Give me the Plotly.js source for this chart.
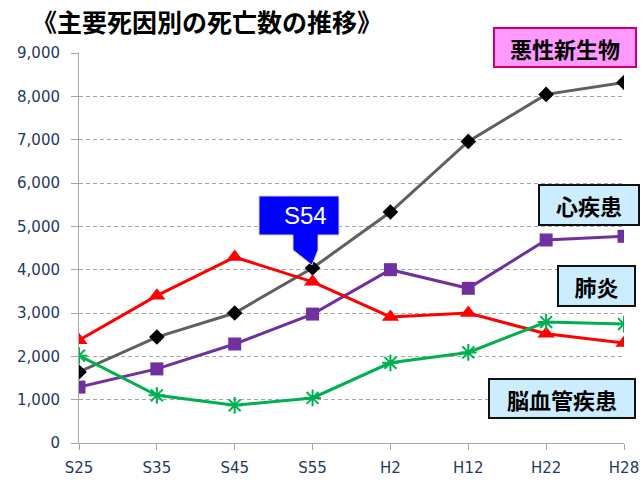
<!DOCTYPE html>
<html><head><meta charset="utf-8">
<script src="https://cdn.plot.ly/plotly-3.0.1.min.js"></script>
<style>html,body{margin:0;padding:0;background:#fff}#chart{width:643px;height:484px}</style>
</head><body><div id="chart"></div>
<script>
const categories = ["S25","S35","S45","S55","H2","H12","H22","H28"];
const malignant = [1640, 2445, 3000, 4040, 5330, 6960, 8045, 8320];
const heart = [1290, 1710, 2285, 2975, 4000, 3570, 4685, 4770];
const pneumonia = [2370, 3400, 4290, 3720, 2910, 3000, 2520, 2310];
const cerebro = [2015, 1100, 870, 1040, 1850, 2090, 2790, 2745];
const yTicks = [0,1000,2000,3000,4000,5000,6000,7000,8000,9000];
const yTickLabels = ["0","1,000","2,000","3,000","4,000","5,000","6,000","7,000","8,000","9,000"];
const titleText = "《主要死因別の死亡数の推移》";
const labelMalignant = "悪性新生物";
const labelHeart = "心疾患";
const labelPneumonia = "肺炎";
const labelCerebro = "脳血管疾患";
const calloutText = "S54";

const W = 643, H = 484, L = 79, R = 19, T = 53, B = 41;
const pw = W - L - R, ph = H - T - B;
const px = v => (v - L) / pw;
const py = v => (H - B - v) / ph;

const tickFont = {family: "DejaVu Sans, Liberation Sans, sans-serif", size: 15, color: "#1F3A5F"};
const jp = "Noto Sans CJK JP, sans-serif";

const traces = [
  {x: categories, y: malignant, mode: "lines+markers", line: {color: "#606060", width: 3},
   marker: {symbol: "diamond", size: 12, color: "#000000"}},
  {x: categories, y: heart, mode: "lines+markers", line: {color: "#7030A0", width: 3},
   marker: {symbol: "square", size: 13, color: "#7030A0"}},
  {x: categories, y: pneumonia, mode: "lines+markers", line: {color: "#FF0000", width: 3},
   marker: {symbol: "triangle-up", size: 15, color: "#FF0000"}},
  {x: categories, y: cerebro, mode: "lines+markers", line: {color: "#00B050", width: 3},
   marker: {symbol: "asterisk-open", size: 14, color: "#00B050", line: {color: "#00B050", width: 2}}}
];

function boxAnn(text, x0, x1, y0, y1, bg, border, fs) {
  const bw = 2, pad = 2;
  return {xref: "paper", yref: "paper", x: px((x0 + x1) / 2), y: py((y0 + y1) / 2),
    xanchor: "center", yanchor: "middle", showarrow: false, text: "<b>" + text + "</b>",
    font: {family: jp, size: fs, color: "#000"}, bgcolor: bg, bordercolor: border, borderwidth: bw,
    borderpad: pad, width: (x1 - x0) - 2 * pad - 2 * bw, height: (y1 - y0) - 2 * pad - 2 * bw};
}

const cp = [[259,196],[339,196],[339,235],[318,235],[318,250],[312,265],[293,250],[293,235],[259,235]];
const calloutPath = "M " + cp.map(p => px(p[0]) + " " + py(p[1])).join(" L ") + " Z";

const layout = {
  width: W, height: H, margin: {l: L, r: R, t: T, b: B},
  paper_bgcolor: "#fff", plot_bgcolor: "#fff", showlegend: false,
  xaxis: {type: "category", range: [0, 7], showgrid: false, showline: true, linecolor: "#A6A6A6", linewidth: 1,
    ticks: "outside", ticklen: 6, tickcolor: "#A6A6A6", tickfont: tickFont, ticklabelstandoff: 5, zeroline: false},
  yaxis: {range: [0, 9000], tickvals: yTicks, ticktext: yTickLabels, showgrid: true, gridcolor: "#A6A6A6",
    griddash: "4px,3px", gridwidth: 1, showline: true, linecolor: "#A6A6A6", linewidth: 1, ticks: "outside",
    ticklen: 7, tickcolor: "#A6A6A6", tickfont: tickFont, ticklabelstandoff: 8, zeroline: false},
  title: {text: "<b>" + titleText + "</b>", font: {family: jp, size: 25, color: "#000"},
    x: 32 / W, xanchor: "left", y: 1 - 23 / H, yanchor: "middle", xref: "container", yref: "container"},
  shapes: [{type: "path", xref: "paper", yref: "paper", path: calloutPath, fillcolor: "#0000FF",
    line: {color: "#D9D2B0", width: 1}}],
  annotations: [
    boxAnn(labelMalignant, 493, 637, 27, 68, "#FF99FF", "#CC0066", 22),
    boxAnn(labelHeart, 538, 640, 184, 226, "#CCECFF", "#111111", 22),
    boxAnn(labelPneumonia, 557, 636, 265, 307, "#CCECFF", "#111111", 22),
    boxAnn(labelCerebro, 488, 636, 378, 419, "#CCECFF", "#111111", 22),
    {xref: "paper", yref: "paper", x: px(305), y: py(216), xanchor: "center", yanchor: "middle",
     showarrow: false, text: calloutText, font: {family: "Liberation Sans, Arial, sans-serif", size: 24, color: "#fff"}}
  ]
};
Plotly.newPlot("chart", traces, layout, {displayModeBar: false, staticPlot: true});
</script></body></html>
